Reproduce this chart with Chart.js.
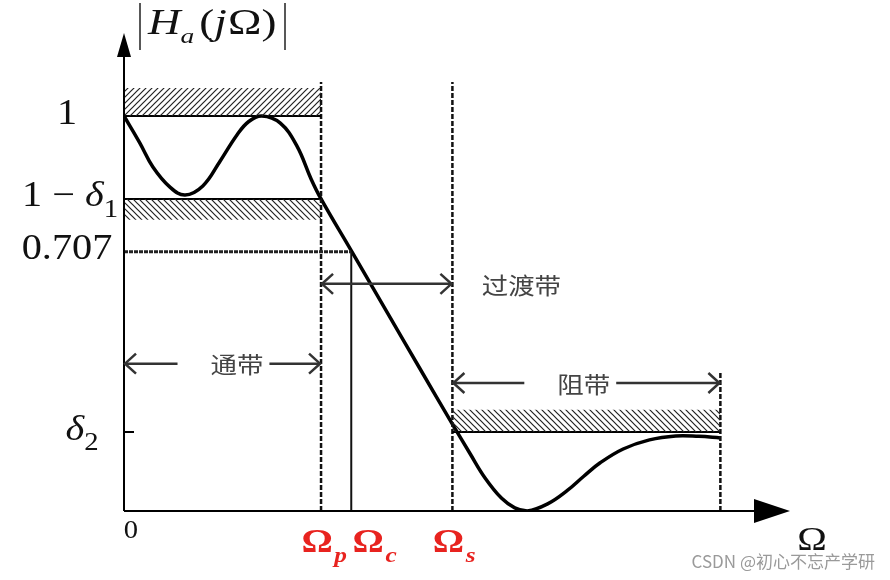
<!DOCTYPE html>
<html>
<head>
<meta charset="utf-8">
<script src="https://cdn.jsdelivr.net/npm/chart.js@4/dist/chart.umd.min.js"></script>
<style>
  html, body { margin: 0; padding: 0; background: #fff; }
  #wrap { width: 890px; height: 580px; }
</style>
</head>
<body>
<div id="wrap"><canvas id="filterChart"></canvas></div>
<script>
// frequency axis in arbitrary units (Ωp = 3), magnitude as drawn
const curveX = [0, 0.24, 0.44, 0.7, 0.93, 1.2, 1.46, 1.72, 1.9, 2.1, 2.38, 2.63, 2.85, 3.0, 3.46, 4.0, 4.5, 5.0, 5.27, 5.5, 5.75, 5.95, 6.14, 6.45, 6.75, 7.0, 7.25, 7.6, 8.0, 8.4, 8.75, 9.08];
const curveY = [1.0, 0.932, 0.871, 0.82, 0.8, 0.823, 0.885, 0.952, 0.986, 1.0, 0.982, 0.925, 0.84, 0.79, 0.659, 0.505, 0.362, 0.22, 0.145, 0.083, 0.032, 0.008, 0.0, 0.018, 0.052, 0.088, 0.122, 0.157, 0.18, 0.19, 0.189, 0.185];

const omegaP = 3.0;
const omegaC = 3.46;
const omegaS = 5.0;
const stopEnd = 9.08;

const yTickValues = [1, 0.79, 0.656, 0.2];
const yTickLabels = ["1", "1 − δ1", "0.707", "δ2"];

const xTickValues = [omegaP, omegaC, omegaS];
const xTickSubs = ["p", "c", "s"];

const passTop = 1.071;
const passLow = 0.737;
const stopTop = 0.256;

const bandNames = ["通带", "过渡带", "阻带"];
const bandFrom = [0, omegaP, omegaS];
const bandTo = [omegaP, omegaS, stopEnd];
const bandLevel = [0.373, 0.575, 0.324];

const xMax = 10.14;
const yMax = 1.205;

const makeHatch = (dir) => {
  const c = document.createElement("canvas");
  c.width = 6;
  c.height = 6;
  const g = c.getContext("2d");
  g.strokeStyle = "#222";
  g.lineWidth = 1.2;
  g.beginPath();
  if (dir > 0) {
    g.moveTo(-1, 7); g.lineTo(7, -1);
    g.moveTo(-4, 4); g.lineTo(4, -4);
    g.moveTo(2, 10); g.lineTo(10, 2);
  } else {
    g.moveTo(-1, -1); g.lineTo(7, 7);
    g.moveTo(-4, 2); g.lineTo(4, 10);
    g.moveTo(2, -4); g.lineTo(10, 4);
  }
  g.stroke();
  return g.createPattern(c, "repeat");
};

const seg = (x0, y0, x1, y1) => [{ x: x0, y: y0 }, { x: x1, y: y1 }];

const flat = { pointRadius: 0, tension: 0, fill: false };

const datasets = [
  { ...flat, data: seg(0, passTop, omegaP, passTop), borderWidth: 0, fill: { value: 1 }, backgroundColor: makeHatch(1) },
  { ...flat, data: seg(0, 0.79, omegaP, 0.79), borderWidth: 0, fill: { value: passLow }, backgroundColor: makeHatch(-1) },
  { ...flat, data: seg(omegaS, stopTop, stopEnd, stopTop), borderWidth: 0, fill: { value: 0.2 }, backgroundColor: makeHatch(-1) },
  { ...flat, data: seg(0, 1, omegaP, 1), borderColor: "#000", borderWidth: 2 },
  { ...flat, data: seg(0, 0.79, omegaP, 0.79), borderColor: "#000", borderWidth: 2 },
  { ...flat, data: seg(omegaS, 0.2, stopEnd, 0.2), borderColor: "#000", borderWidth: 2 },
  { ...flat, data: seg(0, 0.656, omegaC, 0.656), borderColor: "#222", borderWidth: 3, borderDash: [4, 1] },
  { ...flat, data: seg(omegaP, 0, omegaP, 1.086), borderColor: "#111", borderWidth: 2.5, borderDash: [5, 2] },
  { ...flat, data: seg(omegaS, 0, omegaS, 1.086), borderColor: "#111", borderWidth: 2.5, borderDash: [5, 2] },
  { ...flat, data: seg(stopEnd, 0, stopEnd, 0.352), borderColor: "#111", borderWidth: 2.5, borderDash: [5, 2] },
  { ...flat, data: seg(omegaC, 0, omegaC, 0.656), borderColor: "#111", borderWidth: 2 },
  {
    data: curveX.map((x, i) => ({ x, y: curveY[i] })),
    borderColor: "#000",
    borderWidth: 3.5,
    pointRadius: 0,
    tension: 0.4,
    fill: false,
  },
];

// draws text runs: δ italic, digit after δ as subscript
const drawMath = (ctx, str, cx, cy, size, stretch) => {
  const runs = [];
  for (let i = 0; i < str.length; i++) {
    const ch = str[i];
    if (ch === "δ") runs.push({ t: ch, it: true, sub: false });
    else if (/[0-9]/.test(ch) && str[i - 1] === "δ") runs.push({ t: ch, it: false, sub: true });
    else if (runs.length && !runs[runs.length - 1].it && !runs[runs.length - 1].sub) runs[runs.length - 1].t += ch;
    else runs.push({ t: ch, it: false, sub: false });
  }
  const fontOf = (r) => (r.it ? "italic " : "") + (r.sub ? Math.round(size * 0.7) : size) + 'px "Liberation Serif"';
  let w = 0;
  runs.forEach((r) => { ctx.font = fontOf(r); r.w = ctx.measureText(r.t).width; w += r.w; });
  ctx.save();
  ctx.translate(cx, cy);
  ctx.scale(stretch, 1);
  let x = -w / 2;
  ctx.textBaseline = "alphabetic";
  ctx.textAlign = "left";
  runs.forEach((r) => {
    ctx.font = fontOf(r);
    ctx.fillText(r.t, x, r.sub ? size * 0.62 : size * 0.33);
    x += r.w;
  });
  ctx.restore();
};

const chevron = (ctx, x, y, dir) => {
  ctx.beginPath();
  ctx.moveTo(x - dir * 11, y - 10);
  ctx.lineTo(x, y);
  ctx.lineTo(x - dir * 11, y + 10);
  ctx.stroke();
};

const sketchPlugin = {
  id: "sketch",
  afterDatasetsDraw(chart) {
    const { ctx, scales } = chart;
    const xs = scales.x, ys = scales.y;
    const x0 = xs.getPixelForValue(0), y0 = ys.getPixelForValue(0);
    const xEnd = xs.getPixelForValue(xMax), yTop = ys.getPixelForValue(yMax);

    ctx.save();
    // axes with filled arrow heads
    ctx.strokeStyle = "#000";
    ctx.fillStyle = "#000";
    ctx.lineWidth = 2;
    ctx.beginPath();
    ctx.moveTo(x0, y0);
    ctx.lineTo(xEnd - 30, y0);
    ctx.moveTo(x0, y0);
    ctx.lineTo(x0, yTop + 20);
    ctx.stroke();
    ctx.beginPath();
    ctx.moveTo(xEnd, y0);
    ctx.lineTo(xEnd - 36, y0 - 12);
    ctx.lineTo(xEnd - 36, y0 + 12);
    ctx.closePath();
    ctx.fill();
    ctx.beginPath();
    ctx.moveTo(x0, yTop - 2);
    ctx.lineTo(x0 - 7, yTop + 22);
    ctx.lineTo(x0 + 7, yTop + 22);
    ctx.closePath();
    ctx.fill();

    // δ2 tick
    ctx.beginPath();
    ctx.moveTo(x0, ys.getPixelForValue(0.2));
    ctx.lineTo(x0 + 10, ys.getPixelForValue(0.2));
    ctx.stroke();

    // band arrows
    ctx.strokeStyle = "#333";
    ctx.fillStyle = "#444";
    ctx.lineWidth = 2.5;
    ctx.font = '23px "Noto Sans CJK SC"';
    ctx.textBaseline = "middle";
    ctx.textAlign = "left";
    const cjkStretch = 1.15;
    const textX = [xs.getPixelForValue(1.72), xs.getPixelForValue(6.05), xs.getPixelForValue(7.0)];
    bandNames.forEach((name, i) => {
      const a = xs.getPixelForValue(bandFrom[i]) + 1;
      const b = xs.getPixelForValue(bandTo[i]) - 1;
      const y = ys.getPixelForValue(bandLevel[i]);
      const tw = ctx.measureText(name).width * cjkStretch;
      const tl = textX[i] - tw / 2, tr = textX[i] + tw / 2;
      ctx.beginPath();
      if (i === 1) {
        ctx.moveTo(a, y);
        ctx.lineTo(b, y);
      } else {
        ctx.moveTo(a, y);
        ctx.lineTo(tl - 33, y);
        ctx.moveTo(tr + 6, y);
        ctx.lineTo(b, y);
      }
      ctx.stroke();
      ctx.save();
      ctx.translate(tl, y + 1);
      ctx.scale(cjkStretch, 1);
      ctx.fillText(name, 0, 0);
      ctx.restore();
      chevron(ctx, a, y, -1);
      chevron(ctx, b, y, 1);
    });

    // y labels
    ctx.fillStyle = "#111";
    const labelCx = [67, 70, 67, 82];
    yTickValues.forEach((v, i) => {
      drawMath(ctx, yTickLabels[i], labelCx[i], ys.getPixelForValue(v) - 4, 35, 1.15);
    });
    drawMath(ctx, "0", x0 + 7, y0 + 18, 26, 1.1);

    // red Ω labels
    ctx.fillStyle = "#e8231f";
    const omShift = [-4, 17, -4];
    xTickValues.forEach((v, i) => {
      const cx = xs.getPixelForValue(v) + omShift[i];
      ctx.save();
      ctx.translate(cx, y0 + 41);
      ctx.scale(1.15, 1);
      ctx.font = 'bold 34px "Liberation Serif"';
      ctx.textAlign = "center";
      ctx.textBaseline = "alphabetic";
      ctx.fillText("Ω", 0, 0);
      ctx.font = 'italic bold 22px "Liberation Serif"';
      ctx.textAlign = "left";
      ctx.fillText(xTickSubs[i], 15, 10);
      ctx.restore();
    });

    // x axis name
    ctx.fillStyle = "#111";
    ctx.save();
    ctx.translate(812, 550);
    ctx.scale(1.17, 1);
    ctx.font = '34px "Liberation Serif"';
    ctx.textAlign = "center";
    ctx.textBaseline = "alphabetic";
    ctx.fillText("Ω", 0, 0);
    ctx.restore();

    // y axis name |Ha(jΩ)|
    ctx.strokeStyle = "#222";
    ctx.lineWidth = 1.5;
    ctx.beginPath();
    ctx.moveTo(140, 3); ctx.lineTo(140, 50);
    ctx.moveTo(285, 3); ctx.lineTo(285, 50);
    ctx.stroke();
    ctx.save();
    ctx.translate(148, 34);
    ctx.scale(1.25, 1);
    ctx.textAlign = "left";
    ctx.textBaseline = "alphabetic";
    let px = 0;
    const title = [
      { t: "H", f: 'italic 36px "Liberation Serif"', dy: 0, gap: 0 },
      { t: "a", f: 'italic 22px "Liberation Serif"', dy: 9, gap: 4 },
      { t: "(", f: '36px "Liberation Serif"', dy: 0, gap: 0 },
      { t: "j", f: 'italic 36px "Liberation Serif"', dy: 0, gap: 1 },
      { t: "Ω)", f: '36px "Liberation Serif"', dy: 0, gap: 0 },
    ];
    title.forEach((r) => {
      ctx.font = r.f;
      ctx.fillText(r.t, px, r.dy);
      px += ctx.measureText(r.t).width + r.gap;
    });
    ctx.restore();

    // watermark
    ctx.fillStyle = "#9a9a9a";
    ctx.font = '17px "Noto Sans CJK SC"';
    ctx.textAlign = "right";
    ctx.textBaseline = "middle";
    ctx.fillText("CSDN @初心不忘产学研", 875, 562);
    ctx.restore();
  },
};

new Chart(document.getElementById("filterChart"), {
  type: "line",
  data: { datasets },
  options: {
    responsive: true,
    maintainAspectRatio: false,
    animation: false,
    layout: { padding: { left: 124, right: 100, top: 35, bottom: 69 } },
    plugins: { legend: { display: false }, tooltip: { enabled: false } },
    scales: {
      x: { type: "linear", min: 0, max: xMax, display: false },
      y: { type: "linear", min: 0, max: yMax, display: false },
    },
  },
  plugins: [sketchPlugin],
});
</script>
</body>
</html>
